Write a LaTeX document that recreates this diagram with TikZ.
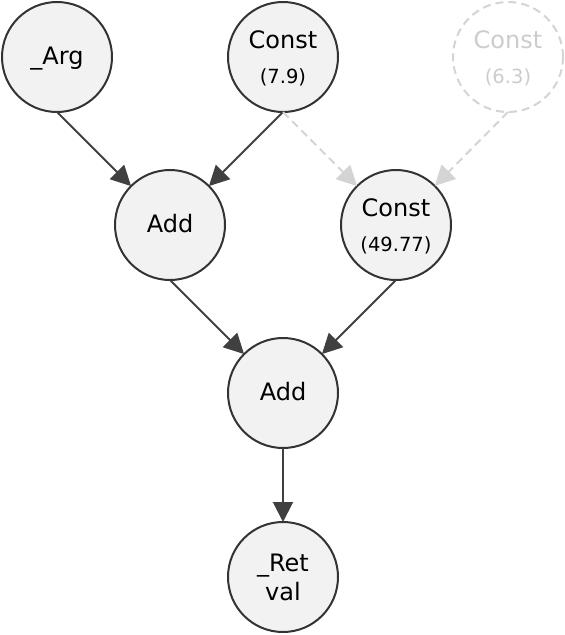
\documentclass[tikz,border=0pt]{standalone}
\usepackage{fontspec}
\setmainfont{DejaVu Sans}
\usetikzlibrary{arrows.meta}
\definecolor{nodefill}{HTML}{F2F2F2}
\definecolor{nodeline}{HTML}{333333}
\definecolor{edgeline}{HTML}{404040}
\definecolor{faded}{HTML}{D4D4D4}
\definecolor{fadedtext}{HTML}{CCCCCC}
\tikzset{
  opnode/.style={circle, draw=nodeline, fill=nodefill, line width=2pt,
    minimum size=110pt, inner sep=0pt, outer sep=0pt, align=center,
    font=\fontsize{24}{26}\selectfont},
  ghostnode/.style={opnode, draw=faded, dash pattern=on 8pt off 5pt, fill=none, text=fadedtext},
  edge/.style={draw=edgeline, line width=2pt, -{Triangle[length=20pt,width=20pt]}},
  ghostedge/.style={draw=faded, line width=2pt, dash pattern=on 8pt off 5pt,
    -{Triangle[length=20pt,width=20pt]}},
}
\newcommand{\sublbl}[1]{\\[9pt]{\fontsize{19.5}{24}\selectfont #1}}
\newcommand{\toprule}{\rule{0pt}{21.5pt}}
\newcommand{\lowrule}{\rule[-4pt]{0pt}{4pt}}
\begin{document}
\begin{tikzpicture}[x=1pt,y=-1pt]
  \useasboundingbox (0,0) rectangle (565,635);
  \node[opnode] (arg) at (57,57) {\rule{0pt}{21pt}\_Arg};
  \node[opnode] (c1) at (283,57) {\toprule Const\sublbl{(7.9)}};
  \node[ghostnode] (c2) at (508,57) {\toprule Const\sublbl{(6.3)}};
  \node[opnode] (add1) at (170,225) {Add\lowrule};
  \node[opnode] (c3) at (396,225) {\toprule Const\sublbl{(49.77)}};
  \node[opnode] (add2) at (283,393) {Add\lowrule};
  \node[opnode] (ret) at (283,577) {\_Ret\\[3pt]val};
  \draw[edge] (arg.south) -- (add1);
  \draw[edge] (c1.south) -- (add1);
  \draw[ghostedge] (c1.south) -- (c3);
  \draw[ghostedge] (c2.south) -- (c3);
  \draw[edge] (add1.south) -- (add2);
  \draw[edge] (c3.south) -- (add2);
  \draw[edge] (add2.south) -- (ret);
\end{tikzpicture}
\end{document}
